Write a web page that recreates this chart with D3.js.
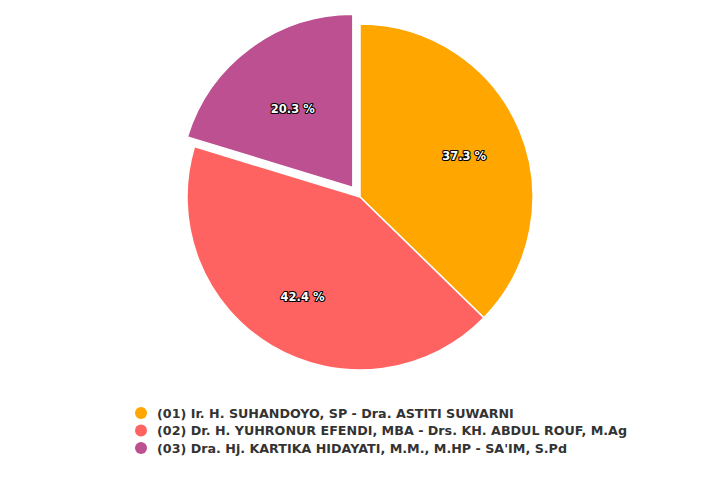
<!DOCTYPE html>
<html>
<head>
<meta charset="utf-8">
<script src="https://cdn.jsdelivr.net/npm/d3@7"></script>
<style>
  body { margin: 0; background: #fff; }
  svg { display: block; }
</style>
</head>
<body>
<div id="chart"></div>
<script>
var candidates = [
  "(01) Ir. H. SUHANDOYO, SP - Dra. ASTITI SUWARNI",
  "(02) Dr. H. YUHRONUR EFENDI, MBA - Drs. KH. ABDUL ROUF, M.Ag",
  "(03) Dra. Hj. KARTIKA HIDAYATI, M.M., M.HP - SA'IM, S.Pd"
];
var shares = [37.3, 42.4, 20.3];
var sliced = [false, false, true];
var colors = ["#ffa600", "#ff6361", "#bc5090"];

var width = 720,
    height = 480,
    cx = 360, cy = 197,
    radius = 173,
    slicedOffset = 12;

var svg = d3.select("#chart").append("svg")
    .attr("width", width)
    .attr("height", height);

var pie = d3.pie().sort(null).value(function(d){ return d.value });
var arc = d3.arc().innerRadius(0).outerRadius(radius);
var labelArc = d3.arc().innerRadius(113).outerRadius(113);

var data = candidates.map(function(c, i){
  return {name: c, value: shares[i], sliced: sliced[i], color: colors[i]};
});

var g = svg.append("g").attr("transform", "translate(" + cx + "," + cy + ")");

function shift(d){
  if (!d.data.sliced) return "translate(0,0)";
  var a = (d.startAngle + d.endAngle) / 2;
  return "translate(" + (Math.sin(a) * slicedOffset) + "," + (-Math.cos(a) * slicedOffset) + ")";
}

var arcs = pie(data);

g.selectAll(".slice")
  .data(arcs)
  .enter().append("path")
  .attr("class", "slice")
  .attr("transform", shift)
  .attr("d", arc)
  .attr("fill", function(d){ return d.data.color })
  .attr("stroke", "#fff")
  .attr("stroke-width", 1.5)
  .attr("stroke-linejoin", "round");

// labels stay put even when a slice is pulled out
g.selectAll(".pieLabel")
  .data(arcs)
  .enter().append("text")
  .attr("class", "pieLabel")
  .attr("transform", function(d){ var c = labelArc.centroid(d); return "translate(" + c[0] + "," + (c[1] + 3) + ")" })
  .attr("text-anchor", "middle")
  .attr("dy", "0.35em")
  .attr("font-family", "DejaVu Sans, sans-serif")
  .attr("font-size", "11.5px")
  .attr("font-weight", "bold")
  .attr("fill", "#fff")
  .attr("stroke", "#000")
  .attr("stroke-width", 2.2)
  .attr("stroke-linejoin", "round")
  .attr("paint-order", "stroke")
  .text(function(d){ return d3.format(".1f")(d.data.value) + " %" });

var legend = svg.append("g").attr("transform", "translate(141,413)");

var items = legend.selectAll(".item")
  .data(data)
  .enter().append("g")
  .attr("class", "item")
  .attr("transform", function(d, i){ return "translate(0," + (i * 17.5) + ")" });

items.append("circle")
  .attr("r", 6)
  .attr("fill", function(d){ return d.color });

items.append("text")
  .attr("x", 16)
  .attr("dy", "0.36em")
  .attr("font-family", "DejaVu Sans, sans-serif")
  .attr("font-size", "12.7px")
  .attr("font-weight", "bold")
  .attr("fill", "#333")
  .text(function(d){ return d.name });
</script>
</body>
</html>
